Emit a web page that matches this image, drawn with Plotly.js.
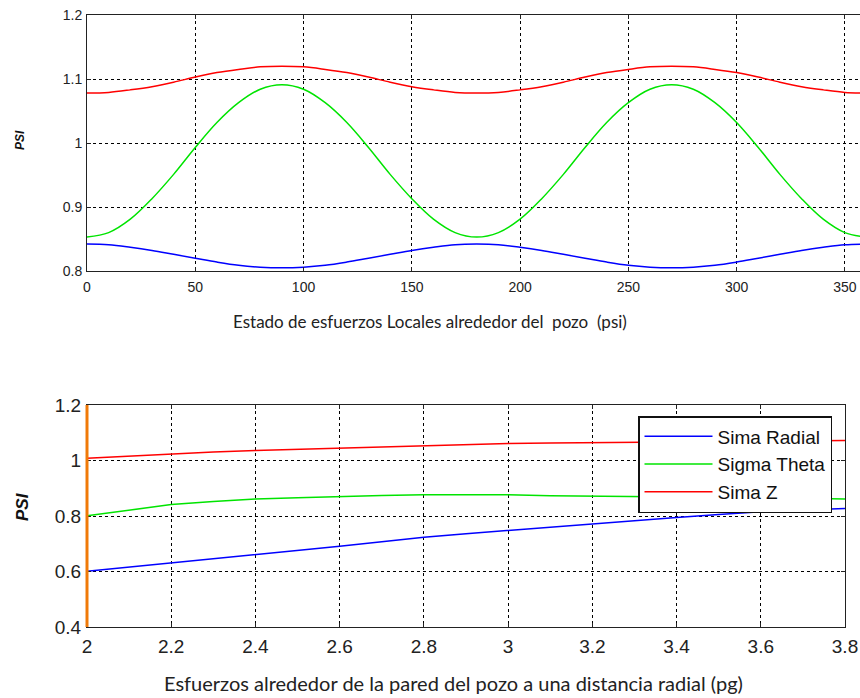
<!DOCTYPE html>
<html>
<head>
<meta charset="utf-8">
<script src="https://cdn.plot.ly/plotly-3.0.1.min.js"></script>
<style>
  html, body { margin: 0; padding: 0; background: #ffffff; overflow: hidden; }
  #chart { width: 870px; height: 698px; }
</style>
</head>
<body>
<div id="chart"></div>
<script>
// Upper panel: stresses around the wellbore wall versus angle (degrees)
const anguloGrados = [0, 10, 20, 30, 40, 50, 60, 70, 80, 90, 100, 110, 120, 130, 140, 150, 160, 170, 180,
  190, 200, 210, 220, 230, 240, 250, 260, 270, 280, 290, 300, 310, 320, 330, 340, 350, 360];
const sigmaRadialAng = [0.842, 0.841, 0.837, 0.832, 0.826, 0.820, 0.814, 0.809, 0.806, 0.805, 0.806, 0.809, 0.814, 0.820, 0.826, 0.832, 0.837, 0.841, 0.842,
  0.841, 0.837, 0.832, 0.826, 0.820, 0.814, 0.809, 0.806, 0.805, 0.806, 0.809, 0.814, 0.820, 0.826, 0.832, 0.837, 0.841, 0.842];
const sigmaThetaAng = [0.853, 0.860, 0.881, 0.913, 0.951, 0.993, 1.032, 1.063, 1.084, 1.091, 1.084, 1.063, 1.032, 0.993, 0.951, 0.913, 0.881, 0.860, 0.853,
  0.860, 0.881, 0.913, 0.951, 0.993, 1.032, 1.063, 1.084, 1.091, 1.084, 1.063, 1.032, 0.993, 0.951, 0.913, 0.881, 0.860, 0.853];
const sigmaZAng = [1.078, 1.079, 1.083, 1.088, 1.095, 1.103, 1.110, 1.115, 1.119, 1.120, 1.119, 1.115, 1.110, 1.103, 1.095, 1.088, 1.083, 1.079, 1.078,
  1.079, 1.083, 1.088, 1.095, 1.103, 1.110, 1.115, 1.119, 1.120, 1.119, 1.115, 1.110, 1.103, 1.095, 1.088, 1.083, 1.079, 1.078];

// Lower panel: stresses versus radial distance (in)
const distanciaRadial = [2.0, 2.1, 2.2, 2.3, 2.4, 2.5, 2.6, 2.7, 2.8, 2.9, 3.0, 3.1, 3.2, 3.3, 3.4, 3.5, 3.6, 3.7, 3.8];
const sigmaRadialDist = [0.601, 0.616, 0.631, 0.645, 0.659, 0.675, 0.691, 0.707, 0.723, 0.736, 0.748, 0.760, 0.771, 0.783, 0.795, 0.805, 0.815, 0.822, 0.827];
const sigmaThetaDist = [0.801, 0.822, 0.841, 0.852, 0.861, 0.866, 0.871, 0.874, 0.877, 0.878, 0.877, 0.873, 0.872, 0.871, 0.870, 0.868, 0.866, 0.864, 0.861];
const sigmaZDist = [1.008, 1.016, 1.025, 1.031, 1.036, 1.040, 1.044, 1.049, 1.054, 1.058, 1.061, 1.063, 1.064, 1.066, 1.067, 1.069, 1.070, 1.071, 1.072];

const nombres = ['Sima Radial', 'Sigma Theta', 'Sima Z'];
const colores = ['#0000ff', '#00e400', '#ff0000'];

const W = 870, H = 698;
const px = v => v / W;
const py = v => 1 - v / H;

const tickFont = { family: 'Liberation Sans, Arial, sans-serif', size: 14, color: '#222222' };
const tickFont2 = { family: 'Liberation Sans, Arial, sans-serif', size: 19, color: '#222222' };

const traces = [
  { x: anguloGrados, y: sigmaRadialAng, xaxis: 'x', yaxis: 'y', mode: 'lines', showlegend: false,
    line: { color: colores[0], width: 1.5, shape: 'spline' }, name: nombres[0] },
  { x: anguloGrados, y: sigmaThetaAng, xaxis: 'x', yaxis: 'y', mode: 'lines', showlegend: false,
    line: { color: colores[1], width: 1.5, shape: 'spline' }, name: nombres[1] },
  { x: anguloGrados, y: sigmaZAng, xaxis: 'x', yaxis: 'y', mode: 'lines', showlegend: false,
    line: { color: colores[2], width: 1.5, shape: 'spline' }, name: nombres[2] },
  { x: distanciaRadial, y: sigmaRadialDist, xaxis: 'x2', yaxis: 'y2', mode: 'lines',
    line: { color: colores[0], width: 1.5 }, name: nombres[0] },
  { x: distanciaRadial, y: sigmaThetaDist, xaxis: 'x2', yaxis: 'y2', mode: 'lines',
    line: { color: colores[1], width: 1.5 }, name: nombres[1] },
  { x: distanciaRadial, y: sigmaZDist, xaxis: 'x2', yaxis: 'y2', mode: 'lines',
    line: { color: colores[2], width: 1.5 }, name: nombres[2] }
];

const ejeComun = {
  showline: true, linecolor: '#222222', linewidth: 1, mirror: 'allticks',
  ticks: 'inside', ticklen: 4, tickcolor: '#222222',
  showgrid: true, gridcolor: '#000000', gridwidth: 1, griddash: '3px,3px',
  zeroline: false, fixedrange: true
};

const layout = {
  width: W, height: H,
  margin: { l: 0, r: 0, t: 0, b: 0 },
  paper_bgcolor: '#ffffff', plot_bgcolor: '#ffffff',
  xaxis: Object.assign({}, ejeComun, {
    domain: [px(87), 0.996], range: [0, 360], dtick: 50, tick0: 0,
    anchor: 'y', tickfont: tickFont, ticklabelstandoff: 3
  }),
  yaxis: Object.assign({}, ejeComun, {
    domain: [py(271), py(15)], range: [0.8, 1.2], dtick: 0.1, tick0: 0.8,
    anchor: 'x', tickfont: tickFont, ticklabelstandoff: 1
  }),
  xaxis2: Object.assign({}, ejeComun, {
    domain: [px(87), px(845)], range: [2, 3.8], dtick: 0.2, tick0: 2,
    anchor: 'y2', tickfont: tickFont2, ticklabelstandoff: 2
  }),
  yaxis2: Object.assign({}, ejeComun, {
    domain: [py(627), py(405)], range: [0.4, 1.2], dtick: 0.2, tick0: 0.4,
    anchor: 'x2', tickfont: tickFont2, ticklabelstandoff: 1
  }),
  showlegend: true,
  legend: {
    x: px(638), y: py(416), xanchor: 'left', yanchor: 'top',
    bgcolor: '#ffffff', bordercolor: '#111111', borderwidth: 1.5,
    font: { family: 'Liberation Sans, Arial, sans-serif', size: 19, color: '#111111' },
    itemwidth: 68, tracegroupgap: 0
  },
  shapes: [
    { type: 'line', xref: 'x2 domain', yref: 'y2 domain', x0: 0, x1: 0, y0: 0, y1: 1,
      line: { color: '#f07a08', width: 3 }, layer: 'above' }
  ],
  annotations: [
    { text: 'Estado de esfuerzos Locales alrededor del  pozo  (psi)', xref: 'paper', yref: 'paper',
      x: px(430), y: py(321), xanchor: 'center', yanchor: 'middle', showarrow: false,
      font: { family: 'Lato, Open Sans, sans-serif', size: 17, color: '#222222' } },
    { text: 'Esfuerzos alrededor de la pared del pozo a una distancia radial (pg)', xref: 'paper', yref: 'paper',
      x: px(453), y: py(683), xanchor: 'center', yanchor: 'middle', showarrow: false,
      font: { family: 'Lato, Open Sans, sans-serif', size: 20, color: '#222222' } },
    { text: '<b><i>PSI</i></b>', xref: 'paper', yref: 'paper', textangle: -90,
      x: px(20), y: py(140), xanchor: 'center', yanchor: 'middle', showarrow: false,
      font: { family: 'Liberation Sans, Arial, sans-serif', size: 12, color: '#111111' } },
    { text: '<b><i>PSI</i></b>', xref: 'paper', yref: 'paper', textangle: -90,
      x: px(22), y: py(507), xanchor: 'center', yanchor: 'middle', showarrow: false,
      font: { family: 'Liberation Sans, Arial, sans-serif', size: 17, color: '#111111' } }
  ]
};

Plotly.newPlot('chart', traces, layout, { displayModeBar: false, staticPlot: true });
</script>
</body>
</html>
